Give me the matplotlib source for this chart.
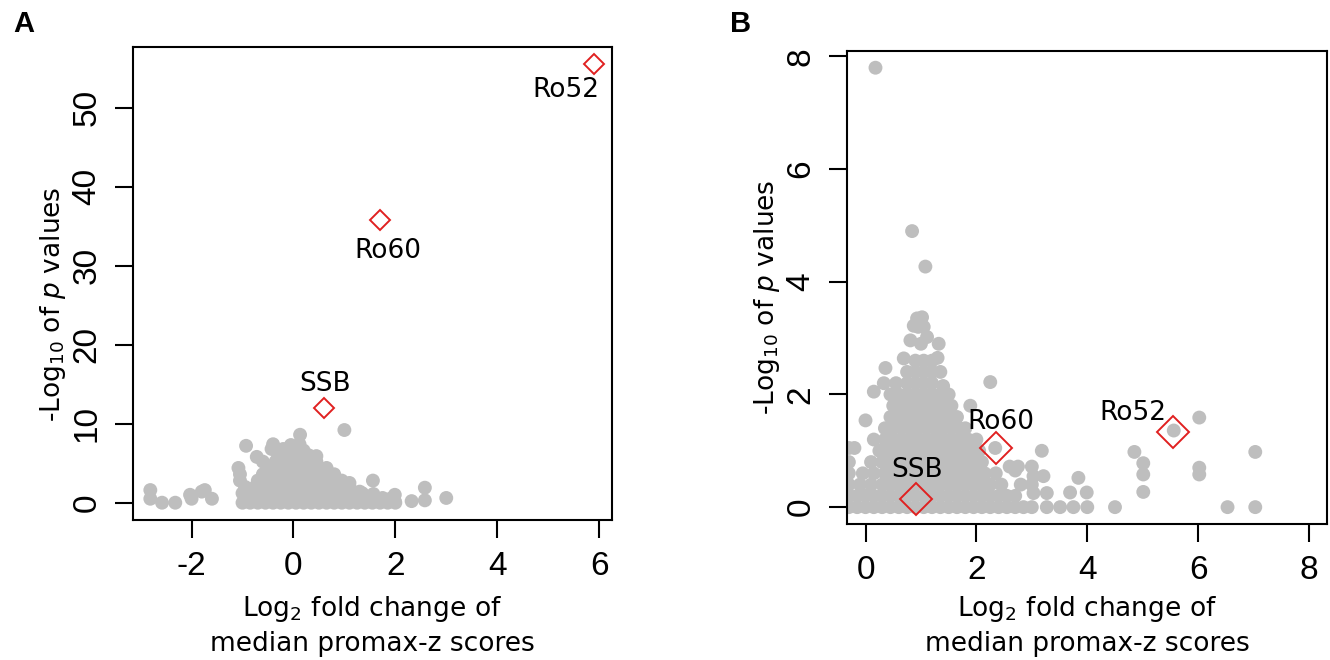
import matplotlib
matplotlib.use("Agg")
import matplotlib.pyplot as plt

plt.rcParams['font.family'] = ['DejaVu Sans']
plt.rcParams['mathtext.fontset'] = 'dejavusans'

# ---- Panel A: log2 fold change vs -log10 p (gray = all proteins) ----
a_points = [
    # bottom rows of the main cloud
    (-1.0, 0.0), (-0.85, 0.0), (-0.7, 0.0), (-0.55, 0.0), (-0.4, 0.0), (-0.25, 0.0), (-0.1, 0.0),
    (0.05, 0.0), (0.2, 0.0), (0.35, 0.0), (0.5, 0.0), (0.65, 0.0), (0.8, 0.0), (0.95, 0.0),
    (1.1, 0.0), (1.25, 0.0), (1.4, 0.0), (1.55, 0.0), (1.7, 0.0), (1.85, 0.0), (2.0, 0.0),
    (-0.95, 0.5), (-0.75, 0.5), (-0.55, 0.5), (-0.35, 0.5), (-0.15, 0.5), (0.05, 0.5), (0.25, 0.5),
    (0.45, 0.5), (0.65, 0.5), (0.85, 0.5), (1.05, 0.5), (1.25, 0.5), (1.45, 0.5), (1.65, 0.5), (1.9, 0.5),
    (-1.0, 1.2), (-0.8, 1.2), (-0.6, 1.2), (-0.4, 1.2), (-0.2, 1.2), (0.0, 1.2), (0.2, 1.2),
    (0.4, 1.2), (0.6, 1.2), (0.8, 1.2), (1.0, 1.2), (1.2, 1.2), (1.35, 1.2),
    (-0.95, 2.0), (-0.75, 2.0), (-0.5, 2.0), (-0.3, 2.0), (-0.1, 2.0), (0.1, 2.0), (0.3, 2.0),
    (0.5, 2.0), (0.7, 2.0), (0.9, 2.0), (1.1, 2.0),
    (-1.05, 2.8), (-0.7, 2.8), (-0.45, 2.8), (-0.25, 2.8), (-0.05, 2.8), (0.15, 2.8), (0.35, 2.8),
    (0.55, 2.8), (0.75, 2.8), (0.95, 2.8),
    (-1.05, 3.6), (-0.6, 3.6), (-0.4, 3.6), (-0.2, 3.6), (0.0, 3.6), (0.2, 3.6), (0.4, 3.6),
    (0.6, 3.6), (0.8, 3.6),
    (-1.08, 4.4), (-0.5, 4.4), (-0.3, 4.4), (-0.1, 4.4), (0.1, 4.4), (0.3, 4.4), (0.5, 4.4), (0.65, 4.4),
    (-0.6, 5.2), (-0.35, 5.2), (-0.15, 5.2), (0.05, 5.2), (0.25, 5.2), (0.45, 5.2),
    (-0.72, 5.8), (-0.3, 6.0), (-0.1, 6.0), (0.1, 6.0), (0.3, 6.0), (0.45, 5.9),
    (-0.43, 6.8), (-0.2, 6.8), (0.0, 6.8), (0.2, 6.6),
    (-0.93, 7.2), (-0.4, 7.4), (-0.05, 7.3), (0.12, 7.4), (0.13, 8.6),
    # scattered points
    (-2.81, 1.6), (-2.81, 0.5), (-2.58, 0.0), (-2.32, 0.0), (-2.03, 1.0), (-2.0, 0.5),
    (-1.8, 1.4), (-1.74, 1.6), (-1.6, 0.5),
    (1.0, 9.2), (1.56, 2.8), (2.58, 1.9), (2.58, 0.3), (2.32, 0.2), (3.0, 0.6),
    (1.99, 1.0), (1.99, 0.2), (1.1, 2.5), (1.3, 1.4), (1.57, 1.1), (1.75, 0.6), (1.85, 0.3),
]
a_names = ["Ro52", "Ro60", "SSB"]
a_fc = [5.9, 1.7, 0.6]
a_logp = [55.5, 35.8, 12.0]
a_label_xy = [(5.35, 52.3), (1.86, 31.9), (0.63, 15.0)]

# ---- Panel B ----
b_points = [
    (-0.3, 0.0), (-0.15, 0.0), (0.0, 0.0), (0.15, 0.0), (0.3, 0.0), (0.45, 0.0), (0.6, 0.0),
    (0.75, 0.0), (0.9, 0.0), (1.05, 0.0), (1.2, 0.0), (1.35, 0.0), (1.5, 0.0), (1.65, 0.0),
    (1.8, 0.0), (1.95, 0.0), (2.1, 0.0), (2.25, 0.0), (2.4, 0.0), (2.55, 0.0), (2.7, 0.0),
    (2.85, 0.0), (3.0, 0.0), (3.27, 0.0), (3.51, 0.0), (3.75, 0.0), (4.0, 0.0), (4.5, 0.0),
    (6.53, 0.0), (7.03, 0.0),
    (-0.3, 0.2), (-0.15, 0.2), (0.0, 0.2), (0.15, 0.2), (0.3, 0.2), (0.45, 0.2), (0.6, 0.2),
    (0.75, 0.2), (0.9, 0.2), (1.05, 0.2), (1.2, 0.2), (1.35, 0.2), (1.5, 0.2), (1.65, 0.2),
    (1.8, 0.2), (1.95, 0.2), (2.1, 0.2), (2.25, 0.2), (2.4, 0.2), (2.55, 0.2), (2.7, 0.2),
    (3.03, 0.25), (3.27, 0.25), (3.69, 0.26), (3.99, 0.26), (5.01, 0.27),
    (-0.3, 0.4), (-0.1, 0.4), (0.1, 0.4), (0.3, 0.4), (0.45, 0.4), (0.6, 0.4), (0.75, 0.4),
    (0.9, 0.4), (1.05, 0.4), (1.2, 0.4), (1.35, 0.4), (1.5, 0.4), (1.65, 0.4), (1.8, 0.4),
    (1.95, 0.4), (2.1, 0.4), (2.25, 0.4), (2.45, 0.4), (2.8, 0.4), (3.0, 0.4),
    (-0.3, 0.6), (-0.05, 0.6), (0.15, 0.6), (0.35, 0.6), (0.5, 0.6), (0.65, 0.6), (0.8, 0.6),
    (0.95, 0.6), (1.1, 0.6), (1.25, 0.6), (1.4, 0.6), (1.55, 0.6), (1.7, 0.6), (1.85, 0.6),
    (2.0, 0.6), (2.15, 0.6), (2.35, 0.6), (2.7, 0.65), (3.03, 0.55), (3.21, 0.55), (3.84, 0.52),
    (5.01, 0.58), (6.02, 0.58),
    (-0.3, 0.8), (0.1, 0.8), (0.3, 0.8), (0.45, 0.8), (0.6, 0.8), (0.75, 0.8), (0.9, 0.8),
    (1.05, 0.8), (1.2, 0.8), (1.35, 0.8), (1.5, 0.8), (1.65, 0.8), (1.8, 0.8), (1.95, 0.8),
    (2.1, 0.8), (2.6, 0.72), (2.75, 0.72), (3.0, 0.72), (5.01, 0.78), (6.02, 0.7),
    (-0.3, 1.05), (-0.2, 1.05), (0.25, 1.0), (0.4, 1.0), (0.55, 1.0), (0.7, 1.0), (0.85, 1.0),
    (1.0, 1.0), (1.15, 1.0), (1.3, 1.0), (1.45, 1.0), (1.6, 1.0), (1.75, 1.0), (1.9, 1.0),
    (2.05, 1.0), (2.34, 1.05), (3.18, 1.0), (4.85, 0.98), (7.03, 0.98),
    (0.15, 1.2), (0.35, 1.2), (0.5, 1.2), (0.65, 1.2), (0.8, 1.2), (0.95, 1.2), (1.1, 1.2),
    (1.25, 1.2), (1.4, 1.2), (1.55, 1.2), (1.7, 1.2), (1.85, 1.2), (2.0, 1.2),
    (0.35, 1.4), (0.5, 1.4), (0.65, 1.4), (0.8, 1.4), (0.95, 1.4), (1.1, 1.4), (1.25, 1.4),
    (1.4, 1.4), (1.55, 1.4), (1.7, 1.4), (1.8, 1.4), (5.56, 1.36),
    (0.0, 1.54), (0.45, 1.6), (0.6, 1.6), (0.75, 1.6), (0.9, 1.6), (1.05, 1.6), (1.2, 1.6),
    (1.35, 1.6), (1.5, 1.6), (1.65, 1.6), (6.02, 1.59),
    (0.5, 1.8), (0.65, 1.8), (0.8, 1.8), (0.95, 1.8), (1.1, 1.8), (1.25, 1.8), (1.4, 1.8),
    (1.55, 1.8), (1.89, 1.8),
    (0.15, 2.05), (0.45, 2.0), (0.6, 2.0), (0.75, 2.0), (0.9, 2.0), (1.05, 2.0), (1.2, 2.0),
    (1.35, 2.0), (1.5, 2.0),
    (0.33, 2.2), (0.55, 2.2), (0.75, 2.2), (0.9, 2.2), (1.05, 2.2), (1.2, 2.2), (1.4, 2.15),
    (2.25, 2.22),
    (0.36, 2.47), (0.75, 2.4), (0.9, 2.4), (1.05, 2.4), (1.2, 2.4), (1.35, 2.4),
    (0.69, 2.64), (0.9, 2.6), (1.05, 2.6), (1.2, 2.6), (1.3, 2.65),
    (0.81, 2.96), (1.0, 2.9), (1.11, 3.02), (1.32, 2.9),
    (0.87, 3.22), (0.95, 3.2), (1.05, 3.2), (0.93, 3.35), (1.02, 3.37),
    (1.08, 4.27), (0.84, 4.9), (0.18, 7.8),
]
b_names = ["Ro52", "Ro60", "SSB"]
b_fc = [5.55, 2.35, 0.91]
b_logp = [1.34, 1.05, 0.14]
b_label_xy = [(4.82, 1.67), (2.45, 1.51), (0.93, 0.66)]

gray = "#bebebe"
tick_font = "Liberation Sans"

fig = plt.figure(figsize=(13.3, 6.6), dpi=100)
ax_a = fig.add_axes([0.100, 0.212, 0.360, 0.717])
ax_b = fig.add_axes([0.637, 0.206, 0.361, 0.717])


def volcano(ax, pts, fc, logp, names, label_xy, dsize, xlim, ylim, xticks, yticks,
            ylab_y, xpad):
    xs = [p[0] for p in pts]
    ys = [p[1] for p in pts]
    ax.scatter(xs, ys, s=100, color=gray, edgecolors="none", zorder=2)
    ax.plot(fc, logp, linestyle="none", marker="D", markersize=dsize,
            markerfacecolor="none", markeredgecolor="#e02020", markeredgewidth=1.4, zorder=3)
    for name, (tx, ty) in zip(names, label_xy):
        ax.text(tx, ty, name, fontsize=19, ha="center", va="center", zorder=4)
    ax.set_xlim(*xlim)
    ax.set_ylim(*ylim)
    ax.set_xticks(xticks)
    ax.set_yticks(yticks)
    ax.set_xticklabels([str(t) for t in xticks], fontfamily=tick_font, fontsize=24)
    ax.set_yticklabels([str(t) for t in yticks], fontfamily=tick_font, fontsize=24,
                       rotation=90, va="center")
    ax.tick_params(length=13, width=1.5, pad=9)
    for sp in ax.spines.values():
        sp.set_linewidth(1.5)
    ax.set_xlabel("Log$_2$ fold change of\nmedian promax-z scores", fontsize=19,
                  linespacing=1.35, labelpad=xpad)
    ax.set_ylabel("-Log$_{10}$ of $p$ values", fontsize=19)
    ax.yaxis.set_label_coords(-0.135, ylab_y)


volcano(ax_a, a_points, a_fc, a_logp, a_names, a_label_xy, 10.5,
        (-3.15, 6.25), (-2.2, 57.7), [-2, 0, 2, 4, 6], [0, 10, 20, 30, 40, 50], 0.455, 9)
volcano(ax_b, b_points, b_fc, b_logp, b_names, b_label_xy, 16,
        (-0.33, 8.33), (-0.3, 8.1), [0, 2, 4, 6, 8], [0, 2, 4, 6, 8], 0.48, 6)

fig.text(0.0177, 0.9636, "A", fontsize=21, fontweight="bold", fontfamily=tick_font,
         ha="center", va="center")
fig.text(0.557, 0.9636, "B", fontsize=21, fontweight="bold", fontfamily=tick_font,
         ha="center", va="center")

fig.savefig("out.png", dpi=100)
